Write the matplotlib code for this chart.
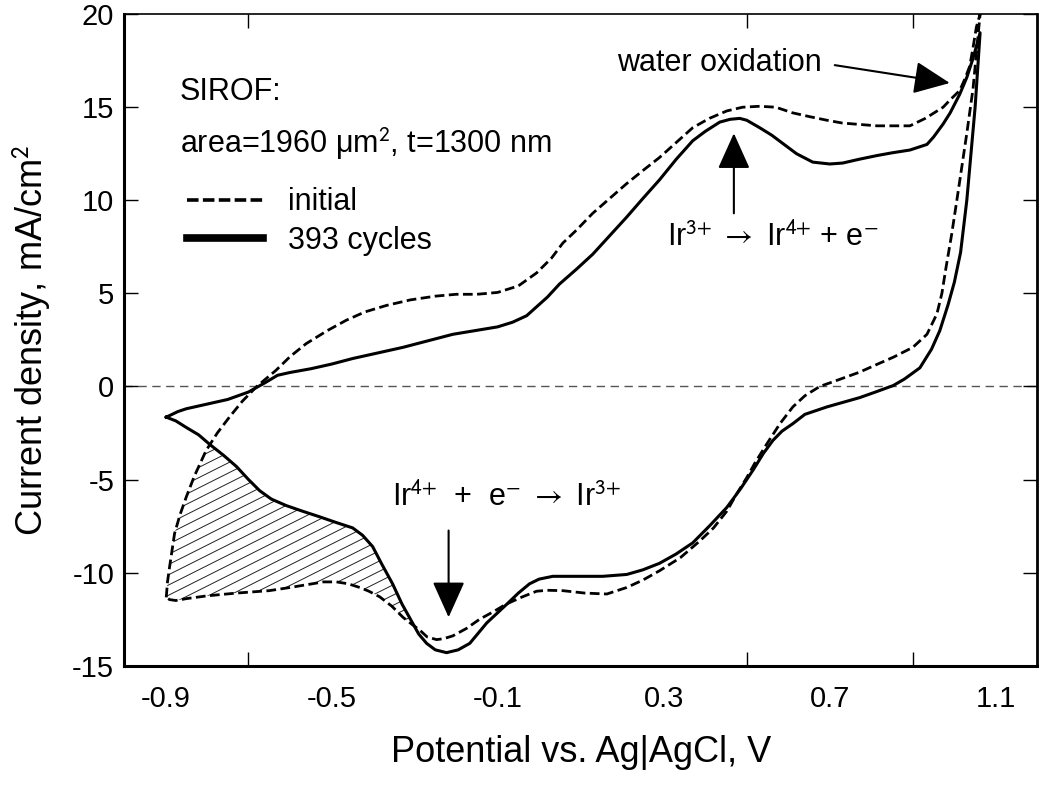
import numpy as np
import matplotlib
matplotlib.use("Agg")
import matplotlib.pyplot as plt
from matplotlib.lines import Line2D

plt.rcParams['font.family'] = ['Liberation Sans', 'DejaVu Sans']
plt.rcParams['mathtext.fontset'] = 'stixsans'

# initial scan (dashed): anodic branch, then cathodic branch
init_up_x = [-0.898, -0.895, -0.89, -0.878, -0.865, -0.85, -0.83, -0.802, -0.775, -0.746,
             -0.715, -0.68, -0.634, -0.6, -0.561, -0.51, -0.465, -0.42, -0.368, -0.31,
             -0.25, -0.2, -0.15, -0.1, -0.05, -0.006, 0.03, 0.057, 0.09, 0.129, 0.17,
             0.211, 0.25, 0.29, 0.33, 0.37, 0.41, 0.452, 0.49, 0.531, 0.57, 0.61, 0.65,
             0.693, 0.73, 0.813, 0.85, 0.893, 0.93, 0.973, 0.99, 1.013, 1.025, 1.037,
             1.045, 1.053, 1.062]
init_up_y = [-11.33, -10.5, -9.7, -7.9, -6.9, -5.95, -4.8, -3.44, -2.5, -1.65,
             -0.8, 0.0, 0.86, 1.6, 2.3, 3.0, 3.55, 4.0, 4.35, 4.65,
             4.85, 4.95, 4.95, 5.05, 5.4, 6.1, 6.9, 7.7, 8.4, 9.3, 10.1,
             10.9, 11.6, 12.3, 13.1, 13.9, 14.4, 14.8, 15.0, 15.05, 15.0, 14.7, 14.5,
             14.3, 14.15, 14.0, 14.0, 14.0, 14.4, 15.0, 15.4, 15.9, 16.5, 17.2,
             18.2, 19.3, 20.0]
init_dn_x = [1.062, 1.045, 1.03, 1.018, 1.006, 0.993, 0.98, 0.97, 0.958, 0.934, 0.9,
             0.853, 0.81, 0.772, 0.72, 0.676, 0.64, 0.611, 0.58, 0.548, 0.52, 0.5,
             0.475, 0.452, 0.42, 0.387, 0.34, 0.29, 0.25, 0.211, 0.163, 0.11, 0.057,
             0.02, -0.006, -0.04, -0.08, -0.11, -0.143, -0.175, -0.208, -0.23, -0.247,
             -0.27, -0.287, -0.305, -0.328, -0.355, -0.384, -0.41, -0.432, -0.46,
             -0.488, -0.52, -0.546, -0.6, -0.65, -0.729, -0.8, -0.85, -0.875, -0.89,
             -0.898]
init_dn_y = [20.0, 16.0, 13.6, 11.8, 10.0, 8.1, 6.4, 5.0, 3.9, 2.8, 2.1,
             1.57, 1.15, 0.77, 0.35, 0.0, -0.5, -1.1, -2.0, -3.1, -4.1, -4.9,
             -5.8, -6.7, -7.6, -8.3, -9.2, -9.9, -10.4, -10.8, -11.15, -11.1, -10.97,
             -10.95, -11.0, -11.3, -11.7, -12.1, -12.5, -13.0, -13.4, -13.55, -13.6,
             -13.45, -13.1, -12.8, -12.4, -11.8, -11.3, -11.0, -10.8, -10.6,
             -10.5, -10.5, -10.6, -10.8, -10.97, -11.1, -11.25, -11.4, -11.5, -11.45,
             -11.33]

# after 393 cycles (solid)
cyc_up_x = [-0.898, -0.87, -0.85, -0.8, -0.75, -0.7, -0.66, -0.63, -0.6, -0.55, -0.5,
            -0.449, -0.328, -0.208, -0.1, -0.064, -0.03, 0.02, 0.049, 0.09, 0.129,
            0.17, 0.211, 0.25, 0.29, 0.33, 0.37, 0.40, 0.435, 0.46, 0.483, 0.50,
            0.531, 0.56, 0.596, 0.62, 0.659, 0.70, 0.731, 0.77, 0.813, 0.85, 0.893,
            0.934, 0.95, 0.973, 0.99, 1.013, 1.03, 1.046, 1.062]
cyc_up_y = [-1.65, -1.35, -1.2, -0.95, -0.7, -0.3, 0.2, 0.6, 0.75, 0.95, 1.2,
            1.5, 2.1, 2.8, 3.2, 3.45, 3.8, 4.8, 5.5, 6.3, 7.1,
            8.1, 9.1, 10.1, 11.1, 12.2, 13.2, 13.7, 14.2, 14.35, 14.4, 14.3,
            13.9, 13.5, 12.9, 12.5, 12.05, 11.95, 12.0, 12.2, 12.4, 12.55, 12.7,
            13.0, 13.4, 14.1, 14.7, 15.7, 16.6, 17.7, 19.0]
cyc_dn_x = [1.062, 1.05, 1.04, 1.03, 1.015, 1.0, 0.985, 0.965, 0.945, 0.917, 0.88,
            0.853, 0.81, 0.772, 0.693, 0.64, 0.611, 0.585, 0.563, 0.54, 0.515, 0.485,
            0.452, 0.41, 0.37, 0.33, 0.29, 0.25, 0.211, 0.153, 0.1, 0.033, 0.0,
            -0.023, -0.05, -0.078, -0.126, -0.167, -0.195, -0.223, -0.25, -0.271,
            -0.29, -0.305, -0.33, -0.353, -0.38, -0.401, -0.425, -0.449, -0.49,
            -0.529, -0.57, -0.609, -0.645, -0.673, -0.70, -0.729, -0.76, -0.794,
            -0.82, -0.85, -0.875, -0.898]
cyc_dn_y = [19.0, 15.0, 12.5, 10.0, 7.2, 5.6, 4.4, 3.0, 2.0, 1.0, 0.4,
            0.05, -0.3, -0.6, -1.1, -1.5, -2.0, -2.4, -2.9, -3.6, -4.5, -5.5,
            -6.5, -7.5, -8.4, -9.0, -9.5, -9.85, -10.1, -10.2, -10.2, -10.2, -10.35,
            -10.6, -11.1, -11.7, -12.7, -13.8, -14.15, -14.3, -14.15, -13.8,
            -13.3, -12.7, -11.7, -10.6, -9.5, -8.6, -8.0, -7.6, -7.3,
            -7.0, -6.7, -6.4, -6.05, -5.6, -5.0, -4.3, -3.7, -3.1,
            -2.6, -2.2, -1.85, -1.65]

xtick_labels = ['-0.9', '-0.5', '-0.1', '0.3', '0.7', '1.1']
xtick_label_pos = [-0.9, -0.5, -0.1, 0.3, 0.7, 1.1]
xtick_marks = [-0.9, -0.7, -0.5, -0.1, 0.5, 0.9, 1.1]
yticks = [-15, -10, -5, 0, 5, 10, 15, 20]

fig = plt.figure(figsize=(10.5, 7.85), dpi=100)
ax = fig.add_axes([0.118, 0.152, 0.870, 0.830])

dash = (0, (3.5, 1.6))
init_x = init_up_x + init_dn_x
init_y = init_up_y + init_dn_y
cyc_x = cyc_up_x + cyc_dn_x
cyc_y = cyc_up_y + cyc_dn_y

ax.axhline(0, color='#555555', lw=1.0, ls=(0, (6, 4)), zorder=1)

# hatched area lost between initial and cycled cathodic branches
up_x = np.array(init_up_x)
up_y = np.array(init_up_y)
left = up_x < -0.6
xg = np.linspace(-0.898, -0.28, 400)
lo = np.interp(xg, init_dn_x[::-1], init_dn_y[::-1])
hi = np.minimum(np.interp(xg, cyc_dn_x[::-1], cyc_dn_y[::-1]),
                np.interp(xg, up_x[left], up_y[left]))
region = ax.fill_between(xg, lo, hi, where=hi > lo, facecolor='none', edgecolor='none')
clip = region.get_paths()[0]
hx = np.array([-1.0, -0.2])
for off in np.arange(-30, 2, 0.55):
    ln, = ax.plot(hx, off + 11.2 * (hx + 0.9), color='#222222', lw=0.7, zorder=2)
    ln.set_clip_path(clip, ax.transData)

ax.plot(init_x, init_y, color='black', lw=2.0, ls=dash, zorder=3)
ax.plot(cyc_x, cyc_y, color='black', lw=2.2, zorder=4)

ax.set_xlim(-1.0, 1.2)
ax.set_ylim(-15, 20)
ax.set_xticks(xtick_label_pos)
ax.set_xticklabels(xtick_labels)
ax.set_xticks(xtick_marks, minor=True)
ax.set_yticks(yticks)
ax.set_yticklabels([str(v) for v in yticks])
ax.tick_params(axis='x', which='major', length=0, pad=14, labelsize=21)
ax.tick_params(axis='x', which='minor', direction='in', length=10, width=1.0,
               top=True, bottom=True)
ax.tick_params(axis='y', direction='in', length=10, width=1.0, left=True, right=True,
               pad=7, labelsize=21)
ax.spines['left'].set_linewidth(2.2)
ax.spines['bottom'].set_linewidth(2.2)
ax.spines['right'].set_linewidth(2.0)
ax.spines['top'].set_linewidth(1.2)

ax.set_xlabel('Potential vs. Ag|AgCl, V', fontsize=26, labelpad=16)
ax.set_ylabel('Current density, mA/cm$^2$', fontsize=26, labelpad=14)

ax.text(-0.866, 15.38, 'SIROF:', fontsize=22, va='baseline')
ax.text(-0.866, 12.53, 'area=1960 \u03bcm$^2$, t=1300 nm', fontsize=22, va='baseline')

handles = [Line2D([], [], color='black', lw=2.6, ls=(0, (3.2, 1.2))),
           Line2D([], [], color='black', lw=5.5)]
ax.legend(handles, ['initial', '393 cycles'], loc='upper left',
          bbox_to_anchor=(0.069, 0.734), frameon=False, fontsize=22,
          handlelength=2.5, handletextpad=0.8, labelspacing=0.27,
          borderpad=0, borderaxespad=0)

arrow = dict(arrowstyle='-|>,head_length=1.6,head_width=0.72', color='black',
             lw=1.5, shrinkA=0, shrinkB=0, mutation_scale=14)
ax.annotate('', xy=(0.989, 16.3), xytext=(0.712, 17.26), arrowprops=arrow)
ax.annotate('', xy=(0.469, 13.6), xytext=(0.469, 9.3), arrowprops=arrow)
ax.annotate('', xy=(-0.218, -12.4), xytext=(-0.218, -7.74), arrowprops=arrow)

ax.text(0.187, 17.37, 'water oxidation', fontsize=22, va='center')
ax.text(0.307, 7.58, r'Ir$^{3{+}}$ $\rightarrow$ Ir$^{4{+}}$ + e$^{-}$', fontsize=22,
        va='baseline')
ax.text(-0.355, -6.4, r'Ir$^{4{+}}$  +  e$^{-}$ $\rightarrow$ Ir$^{3{+}}$', fontsize=22,
        va='baseline')

fig.savefig('out.png', dpi=100)
